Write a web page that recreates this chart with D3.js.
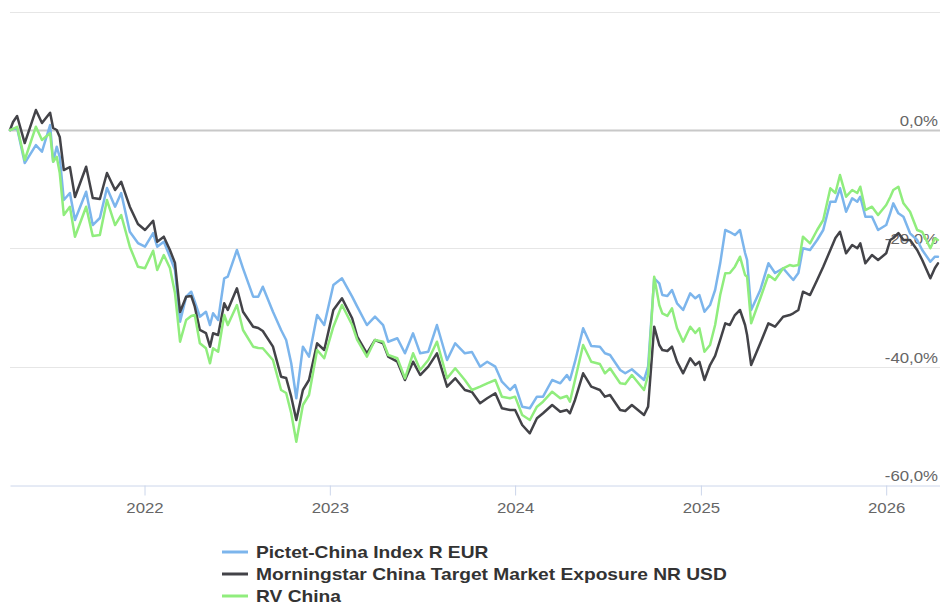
<!DOCTYPE html>
<html>
<head>
<meta charset="utf-8">
<script src="https://cdn.jsdelivr.net/npm/d3@7"></script>
<style>
  body { margin: 0; background: #fff; }
  svg { font-family: "Liberation Sans", Arial, Helvetica, sans-serif; }
  .grid line { stroke: #e6e6e6; stroke-width: 1; }
  .y-label { fill: #666; font-size: 14px; }
  .x-axis path, .x-axis line { stroke: #ccd6eb; }
  .x-axis text { fill: #666; font-size: 14px; }
  .series { fill: none; stroke-width: 2.5; stroke-linejoin: round; stroke-linecap: round; }
  .legend text { fill: #333; font-size: 16px; font-weight: bold; }
</style>
</head>
<body>
<svg id="chart"></svg>
<script>
var dates = [
  "2021-04-11","2021-04-17","2021-04-25","2021-05-10","2021-06-01","2021-06-13","2021-06-29","2021-07-05",
  "2021-07-12","2021-07-18","2021-07-26","2021-08-07","2021-08-17","2021-09-08","2021-09-21","2021-10-05",
  "2021-10-19","2021-11-04","2021-11-16","2021-12-03","2021-12-19","2022-01-02","2022-01-18","2022-01-26",
  "2022-02-08","2022-02-20","2022-03-02","2022-03-12","2022-03-24","2022-04-03","2022-04-10","2022-04-20",
  "2022-05-02","2022-05-10","2022-05-16","2022-05-26","2022-06-07","2022-06-14","2022-07-02","2022-07-14",
  "2022-08-03","2022-08-13","2022-08-22","2022-09-11","2022-09-27","2022-10-07","2022-10-17","2022-10-27",
  "2022-11-09","2022-11-21","2022-12-07","2022-12-21","2023-01-08","2023-01-25","2023-02-14","2023-02-24",
  "2023-03-15","2023-03-31","2023-04-16","2023-04-26","2023-05-14","2023-05-29","2023-06-14","2023-06-28",
  "2023-07-14","2023-07-31","2023-08-20","2023-09-05","2023-09-24","2023-10-08","2023-10-24","2023-11-07",
  "2023-11-23","2023-12-06","2023-12-22","2024-01-01","2024-01-15","2024-01-30","2024-02-13","2024-02-25",
  "2024-03-14","2024-03-30","2024-04-12","2024-04-18","2024-04-28","2024-05-14","2024-05-30","2024-06-16",
  "2024-06-26","2024-07-06","2024-07-26","2024-08-05","2024-08-18","2024-09-11","2024-09-19","2024-10-01",
  "2024-10-11","2024-10-17","2024-10-27","2024-11-05","2024-11-15","2024-11-27","2024-12-11","2024-12-21",
  "2024-12-29","2025-01-08","2025-01-19","2025-01-29","2025-02-08","2025-02-18","2025-02-27","2025-03-09",
  "2025-03-19","2025-03-29","2025-04-02","2025-04-10","2025-04-28","2025-05-14","2025-05-27","2025-06-12",
  "2025-06-25","2025-07-02","2025-07-12","2025-07-21","2025-08-04","2025-08-18","2025-08-30","2025-09-13",
  "2025-09-23","2025-10-02","2025-10-14","2025-10-26","2025-11-05","2025-11-11","2025-11-21","2025-12-04",
  "2025-12-16","2026-01-01","2026-01-09","2026-01-15","2026-01-25","2026-02-04","2026-02-17","2026-03-03",
  "2026-03-13","2026-03-29","2026-04-07","2026-04-13"
];

var pictet = [
  0, 0.17, 0.34, -5.58, -2.54, -3.67, 0.85, -5.36,
  -2.82, -4.56, -11.83, -10.65, -15.21, -10.43, -16.06, -14.87,
  -9.80, -12.96, -10.65, -17.19, -19.10, -19.72, -17.41, -19.72,
  -18.88, -21.41, -23.66, -32.40, -28.17, -27.33, -29.02, -31.55,
  -30.71, -32.96, -30.98, -32.11, -25.06, -24.79, -20.28, -23.37,
  -28.17, -28.17, -26.48, -30.71, -33.80, -35.49, -39.43, -45.34,
  -36.62, -38.31, -31.27, -32.96, -26.20, -25.06, -28.17, -29.86,
  -32.96, -31.55, -32.96, -35.78, -35.20, -37.74, -34.36, -37.74,
  -37.47, -32.96, -38.87, -36.05, -37.74, -37.52, -40.00, -39.16,
  -40.00, -42.54, -43.94, -43.10, -46.76, -47.03, -45.07, -45.07,
  -42.25, -42.81, -41.41, -42.25, -39.16, -33.51, -36.50, -36.62,
  -37.74, -38.03, -40.56, -41.12, -40.44, -42.25, -40.00, -25.06,
  -25.91, -27.89, -28.05, -27.04, -29.29, -30.42, -27.60, -28.44,
  -27.89, -30.71, -29.58, -27.04, -22.53, -16.90, -17.24, -17.75,
  -16.90, -20.79, -21.97, -30.42, -27.04, -22.53, -24.17, -23.37,
  -24.67, -25.35, -24.17, -19.99, -20.28, -18.59, -16.90, -12.12,
  -12.12, -9.85, -13.81, -11.54, -12.12, -11.27, -14.65, -14.65,
  -16.90, -16.06, -14.03, -12.39, -14.08, -14.65, -17.46, -18.59,
  -20.28, -22.26, -21.41, -21.41
];

var morningstar = [
  0, 1.35, 2.37, -2.20, 3.38, 1.18, 2.92, 0.34,
  0, -1.18, -6.76, -6.25, -11.32, -6.20, -11.49, -11.66,
  -7.27, -10.14, -8.74, -12.96, -15.89, -16.90, -15.33, -18.88,
  -18.03, -20.28, -22.48, -30.76, -28.17, -28.05, -29.86, -33.80,
  -34.31, -36.62, -34.36, -34.65, -29.29, -30.42, -26.75, -30.71,
  -33.24, -33.46, -33.97, -36.62, -41.69, -41.91, -45.07, -49.01,
  -43.94, -42.25, -36.05, -37.18, -30.42, -28.44, -31.82, -34.93,
  -37.74, -35.49, -36.05, -38.31, -39.16, -42.25, -39.16, -41.41,
  -40.00, -37.74, -43.38, -41.96, -43.94, -44.28, -46.19, -45.34,
  -44.50, -47.03, -47.32, -47.32, -49.86, -51.26, -48.72, -47.88,
  -46.48, -47.61, -47.32, -47.88, -45.63, -41.12, -43.38, -43.94,
  -45.07, -44.79, -47.32, -47.49, -46.48, -48.17, -46.76, -33.24,
  -36.34, -37.18, -37.35, -36.62, -39.16, -41.12, -38.58, -39.72,
  -39.16, -42.25, -39.72, -38.19, -35.49, -32.67, -32.96, -31.27,
  -30.42, -32.96, -34.65, -39.72, -36.05, -32.67, -33.24, -31.55,
  -31.27, -30.98, -30.42, -27.33, -27.89, -25.35, -23.10, -20.28,
  -18.25, -17.19, -20.84, -19.44, -19.99, -19.15, -22.53, -21.13,
  -21.97, -20.84, -18.59, -18.25, -17.41, -18.59, -18.59, -20.28,
  -21.97, -25.06, -23.32, -22.53
];

var rvChina = [
  0, 0.17, 0.56, -5.07, 0.56, -1.69, -0.56, -5.36,
  -4.51, -7.27, -14.37, -12.96, -18.03, -12.96, -17.91, -17.75,
  -11.83, -16.06, -14.37, -19.72, -23.10, -23.37, -20.40, -23.66,
  -21.13, -23.32, -27.55, -35.78, -32.11, -31.43, -31.27, -36.05,
  -36.89, -39.43, -36.89, -37.47, -31.27, -32.96, -29.58, -33.80,
  -36.62, -36.84, -36.89, -38.87, -43.94, -44.45, -47.88, -52.68,
  -46.48, -44.79, -37.18, -38.58, -33.24, -29.58, -32.96, -35.49,
  -38.31, -35.49, -35.78, -38.03, -38.58, -41.96, -37.74, -40.56,
  -38.87, -35.78, -41.96, -40.27, -42.25, -43.94, -43.38, -42.81,
  -42.25, -45.07, -45.34, -45.07, -48.17, -49.01, -46.76, -45.92,
  -44.23, -45.34, -44.95, -45.92, -42.25, -36.34, -39.16, -39.55,
  -41.12, -40.27, -42.81, -42.93, -41.41, -43.94, -41.41, -24.79,
  -29.58, -30.98, -31.43, -30.13, -33.51, -35.78, -33.24, -34.31,
  -33.51, -37.47, -36.34, -32.96, -27.89, -24.22, -24.17, -23.10,
  -21.41, -24.51, -24.79, -32.67, -28.44, -24.51, -25.35, -23.37,
  -22.82, -22.98, -22.82, -18.03, -19.15, -16.90, -15.21, -9.85,
  -10.65, -7.61, -11.27, -10.14, -10.65, -9.58, -13.52, -12.96,
  -14.37, -12.68, -11.32, -10.14, -9.58, -12.39, -13.81, -16.90,
  -17.24, -19.99, -18.30, -18.59
];

var seriesNames = ["Pictet-China Index R EUR", "Morningstar China Target Market Exposure NR USD", "RV China"];
var seriesColors = ["#7cb5ec", "#434348", "#90ed7d"];
var yTicks = [20, 0, -20, -40, -60];
var yTickLabels = ["", "0,0%", "-20,0%", "-40,0%", "-60,0%"];
var xTickYears = ["2022", "2023", "2024", "2025", "2026"];

var width = 940,
    height = 606,
    textStretch = 1.2,   // the source picture is a little wider than tall
    parseDate = d3.timeParse("%Y-%m-%d");

var svg = d3.select("#chart")
    .attr("width", width)
    .attr("height", height);

var x = d3.scaleTime()
    .domain([parseDate("2021-04-11"), parseDate("2026-04-17")])
    .range([10, 940]);

var y = d3.scaleLinear()
    .domain([-60, 20])
    .range([485, 11.7]);

// grid lines
var grid = svg.append("g").attr("class", "grid");

grid.selectAll("line")
    .data(yTicks.filter(d => d !== -60))
    .enter().append("line")
    .attr("x1", 10)
    .attr("x2", 940)
    .attr("y1", d => Math.round(y(d)) + 0.5)
    .attr("y2", d => Math.round(y(d)) + 0.5)
    .style("stroke", d => d === 0 ? "#c8c8c8" : null)
    .style("stroke-width", d => d === 0 ? 2 : null);

// y labels, drawn under the lines
svg.append("g").selectAll("text")
    .data(yTicks)
    .enter().append("text")
    .attr("class", "y-label")
    .attr("transform", d => "translate(938," + (y(d) - 4) + ") scale(" + textStretch + ",1)")
    .attr("text-anchor", "end")
    .text((d, i) => yTickLabels[i]);

// x axis
var xAxis = svg.append("g")
    .attr("class", "x-axis")
    .attr("transform", "translate(0," + (Math.round(y(-60)) + 0.5) + ")")
    .call(d3.axisBottom(x)
        .tickValues(xTickYears.map(d => parseDate(d + "-01-01")))
        .tickSize(10)
        .tickSizeOuter(0)
        .tickPadding(8)
        .tickFormat(d3.timeFormat("%Y")));

xAxis.select(".domain").attr("stroke-width", 1);
xAxis.selectAll(".tick text")
    .attr("transform", "scale(" + textStretch + ",1)");

// lines
var line = d3.line()
    .x((d, i) => x(parseDate(dates[i])))
    .y(d => y(d));

var seriesValues = [pictet, morningstar, rvChina];

svg.append("g").selectAll("path")
    .data(seriesValues)
    .enter().append("path")
    .attr("class", "series")
    .attr("stroke", (d, i) => seriesColors[i])
    .attr("d", d => line(d));

// legend
var legend = svg.append("g")
    .attr("class", "legend")
    .attr("transform", "translate(222,552)");

var item = legend.selectAll("g")
    .data(seriesNames)
    .enter().append("g")
    .attr("transform", (d, i) => "translate(0," + (i * 22) + ")");

item.append("line")
    .attr("x1", 0)
    .attr("x2", 26)
    .attr("y1", 0)
    .attr("y2", 0)
    .attr("stroke", (d, i) => seriesColors[i])
    .attr("stroke-width", 3);

item.append("text")
    .attr("transform", "translate(34,6) scale(" + textStretch + ",1)")
    .text(d => d);
</script>
</body>
</html>
